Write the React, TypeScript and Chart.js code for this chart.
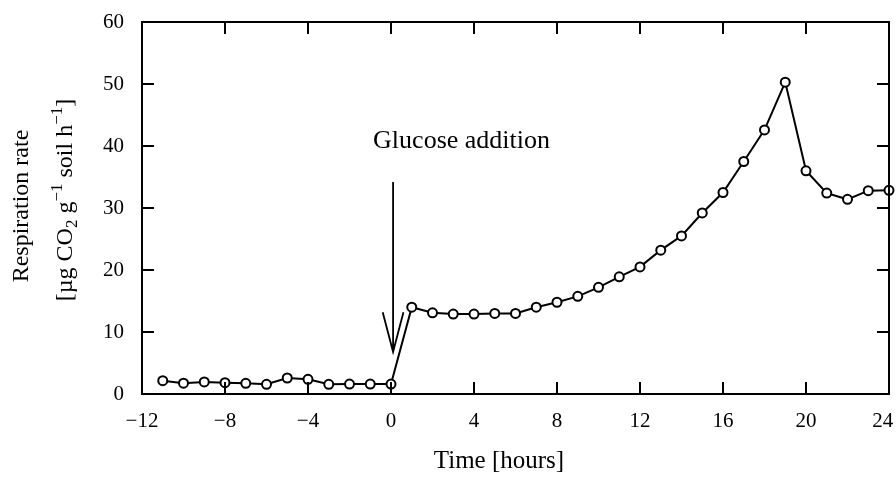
import React, { useEffect, useRef } from 'react';
import { Chart, registerables } from 'chart.js';

Chart.register(...registerables);

// ---- data ----
const hours = [
  -11, -10, -9, -8, -7, -6, -5, -4, -3, -2, -1, 0,
  1, 2, 3, 4, 5, 6, 7, 8, 9, 10, 11, 12,
  13, 14, 15, 16, 17, 18, 19, 20, 21, 22, 23, 24,
];
const respiration = [
  2.15, 1.75, 1.94, 1.83, 1.72, 1.56, 2.58, 2.37, 1.56, 1.61, 1.61, 1.61,
  14.0, 13.1, 12.9, 12.9, 13.0, 13.0, 14.0, 14.8, 15.75, 17.2, 18.9, 20.5,
  23.2, 25.5, 29.2, 32.5, 37.5, 42.6, 50.3, 36.0, 32.4, 31.4, 32.8, 32.85,
];
const xTickValues = [-12, -8, -4, 0, 4, 8, 12, 16, 20, 24];
const yTickValues = [0, 10, 20, 30, 40, 50, 60];

const xTitle = 'Time [hours]';
const yTitleLine1 = 'Respiration rate';
const annotationText = 'Glucose addition';
// annotation anchors in data units
const arrowX = [0.1];
const arrowYs = [34.2, 6.8];
const arrowHead = [0.5, 6.4];
const labelPos = [3.4, 39.7];

const FONT = "'Liberation Serif', 'Times New Roman', serif";

type Seg = { t: string; k?: 'sup' | 'sub' };
const yTitleLine2: Seg[] = [
  { t: '[µg CO' },
  { t: '2', k: 'sub' },
  { t: ' g' },
  { t: '−1', k: 'sup' },
  { t: ' soil h' },
  { t: '−1', k: 'sup' },
  { t: ']' },
];

const fmt = (v: number) => (v < 0 ? '−' + Math.abs(v) : String(v));

function drawRich(ctx: CanvasRenderingContext2D, segs: Seg[], size: number) {
  const small = Math.round(size * 0.7);
  const widths = segs.map((s) => {
    ctx.font = `${s.k ? small : size}px ${FONT}`;
    return ctx.measureText(s.t).width;
  });
  const total = widths.reduce((a, b) => a + b, 0);
  let cx = -total / 2;
  segs.forEach((s, i) => {
    ctx.font = `${s.k ? small : size}px ${FONT}`;
    const dy = s.k === 'sup' ? -size * 0.42 : s.k === 'sub' ? size * 0.22 : 0;
    ctx.fillText(s.t, cx, dy);
    cx += widths[i];
  });
}

const zeroPad = (s: any) => {
  s.paddingLeft = 0;
  s.paddingRight = 0;
  s.paddingTop = 0;
  s.paddingBottom = 0;
};

const decor = {
  id: 'decor',
  afterDraw(chart: any) {
    const { ctx, chartArea: a, scales } = chart;
    const xs = scales.x;
    const ys = scales.y;
    ctx.save();
    ctx.strokeStyle = '#000';
    ctx.fillStyle = '#000';
    ctx.lineWidth = 2;
    ctx.strokeRect(a.left, a.top, a.right - a.left, a.bottom - a.top);
    const L = 12;
    ctx.beginPath();
    xTickValues.forEach((v) => {
      if (v === xs.min || v === xs.max) return;
      const px = xs.getPixelForValue(v);
      ctx.moveTo(px, a.bottom);
      ctx.lineTo(px, a.bottom - L);
      ctx.moveTo(px, a.top);
      ctx.lineTo(px, a.top + L);
    });
    yTickValues.forEach((v) => {
      if (v === ys.min || v === ys.max) return;
      const py = ys.getPixelForValue(v);
      ctx.moveTo(a.left, py);
      ctx.lineTo(a.left + L, py);
      ctx.moveTo(a.right, py);
      ctx.lineTo(a.right - L, py);
    });
    ctx.stroke();

    // arrow
    const ax = xs.getPixelForValue(arrowX[0]);
    const aTop = ys.getPixelForValue(arrowYs[0]);
    const aTip = ys.getPixelForValue(arrowYs[1]);
    const hx = xs.getPixelForValue(arrowX[0] + arrowHead[0]) - ax;
    const hy = ys.getPixelForValue(arrowYs[1] + arrowHead[1]);
    ctx.lineWidth = 1.8;
    ctx.beginPath();
    ctx.moveTo(ax, aTop);
    ctx.lineTo(ax, aTip);
    ctx.moveTo(ax - hx, hy);
    ctx.lineTo(ax, aTip);
    ctx.lineTo(ax + hx, hy);
    ctx.stroke();

    // annotation label
    ctx.font = `26px ${FONT}`;
    ctx.textAlign = 'center';
    ctx.textBaseline = 'alphabetic';
    ctx.fillText(annotationText, xs.getPixelForValue(labelPos[0]), ys.getPixelForValue(labelPos[1]));

    // x title
    ctx.font = `25px ${FONT}`;
    ctx.fillText(xTitle, 499, 468);

    // y title (two lines, rotated)
    ctx.save();
    ctx.translate(28, 206);
    ctx.rotate(-Math.PI / 2);
    ctx.font = `24px ${FONT}`;
    ctx.textAlign = 'center';
    ctx.fillText(yTitleLine1, 0, 0);
    ctx.restore();

    ctx.save();
    ctx.translate(72, 200);
    ctx.rotate(-Math.PI / 2);
    ctx.textAlign = 'left';
    drawRich(ctx, yTitleLine2, 24);
    ctx.restore();

    ctx.restore();
  },
};

export default function App() {
  const ref = useRef<HTMLCanvasElement>(null);
  useEffect(() => {
    document.body.style.margin = '0';
    const canvas = ref.current!;
    const chart = new Chart(canvas, {
      type: 'line',
      data: {
        datasets: [
          {
            data: hours.map((h, i) => ({ x: h, y: respiration[i] })),
            borderColor: '#000',
            borderWidth: 2,
            pointRadius: 4.5,
            pointBackgroundColor: '#fff',
            pointBorderColor: '#000',
            pointBorderWidth: 2,
            tension: 0,
            clip: false as any,
          },
        ],
      },
      options: {
        animation: false,
        responsive: false,
        devicePixelRatio: 1,
        layout: { padding: { top: 22, right: 7, left: 0, bottom: 0 } },
        plugins: { legend: { display: false }, tooltip: { enabled: false } },
        scales: {
          x: {
            type: 'linear',
            position: 'bottom',
            min: -12,
            max: 24,
            afterBuildTicks: (s: any) => {
              s.ticks = xTickValues.map((v) => ({ value: v }));
            },
            afterFit: (s: any) => {
              s.height = 84;
              zeroPad(s);
            },
            ticks: {
              // last label nudged left (trailing thin spaces) so it stays inside the page
              callback: (v: any) => (Number(v) === 24 ? fmt(24) + '\u2009\u2009\u2009' : fmt(Number(v))),
              color: '#000',
              font: { family: FONT, size: 21 },
              padding: 15,
              maxRotation: 0,
              autoSkip: false,
            },
            grid: { display: false, drawTicks: false },
            border: { display: false },
          },
          y: {
            type: 'linear',
            min: 0,
            max: 60,
            afterBuildTicks: (s: any) => {
              s.ticks = yTickValues.map((v) => ({ value: v }));
            },
            afterFit: (s: any) => {
              s.width = 142;
              zeroPad(s);
            },
            ticks: {
              callback: (v: any) => fmt(Number(v)),
              color: '#000',
              font: { family: FONT, size: 21 },
              padding: 18,
            },
            grid: { display: false, drawTicks: false },
            border: { display: false },
          },
        },
      },
      plugins: [decor],
    });
    return () => chart.destroy();
  }, []);
  return <canvas ref={ref} width={896} height={478} style={{ display: 'block' }} />;
}
